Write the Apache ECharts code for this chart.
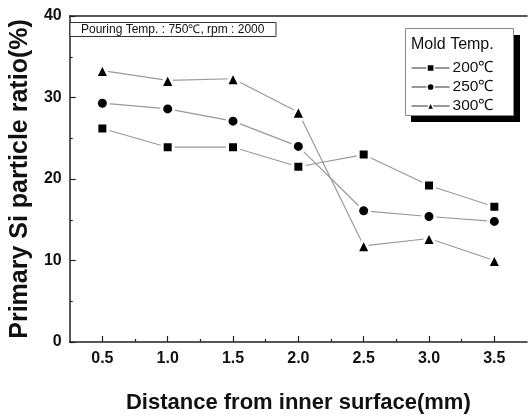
<!DOCTYPE html>
<html>
<head>
<meta charset="utf-8">
<script src="https://cdn.jsdelivr.net/npm/echarts@6.0.0/dist/echarts.min.js"></script>
<style>
  html, body { margin: 0; padding: 0; background: #fff; }
  #main { width: 528px; height: 419px; }
</style>
</head>
<body>
<div id="main"></div>
<script>
// distance from inner surface (mm)
const distances = [0.5, 1.0, 1.5, 2.0, 2.5, 3.0, 3.5]
const xTicks = [0.5, 1.0, 1.5, 2.0, 2.5, 3.0, 3.5]
const xMinorTicks = [0.75, 1.25, 1.75, 2.25, 2.75, 3.25]
// primary Si particle ratio (%) per mold temperature
const mold200 = [26.2, 23.9, 23.9, 21.5, 23.0, 19.2, 16.6]
const mold250 = [29.3, 28.6, 27.1, 24.0, 16.1, 15.4, 14.8]
const mold300 = [33.3, 32.1, 32.3, 28.2, 11.8, 12.7, 10.0]
const seriesNames = ['200\u2103', '250\u2103', '300\u2103']

const FONT = "'Liberation Sans', Arial, sans-serif"
const AXIS = '#222'

const chart = echarts.init(document.getElementById('main'))

const pairs = (vals) => distances.map((d, i) => [d, vals[i]])

const mkSeries = (name, vals, symbol, size) => ({
  name: name,
  type: 'line',
  data: pairs(vals),
  symbol: symbol,
  symbolSize: size,
  lineStyle: { color: '#999', width: 1.2 },
  itemStyle: { color: '#000', borderColor: '#fff', borderWidth: 3 },
  emphasis: { disabled: true },
  z: 3
})

const option = {
  animation: false,
  backgroundColor: '#fff',
  grid: { left: 69, right: 1, top: 16, bottom: 63 },
  xAxis: [
    {
      type: 'value', min: 0.25, max: 3.75, position: 'bottom',
      name: 'Distance from inner surface(mm)', nameLocation: 'middle', nameGap: 50,
      nameTextStyle: { fontFamily: FONT, fontWeight: 'bold', fontSize: 22, color: '#111' },
      axisLine: { lineStyle: { color: AXIS, width: 1.5 } },
      axisTick: { inside: true, length: 6, lineStyle: { color: AXIS, width: 1.2 }, customValues: xTicks },
      axisLabel: { customValues: xTicks, margin: 9, fontFamily: FONT, fontWeight: 'bold', fontSize: 16, color: '#111',
        formatter: v => v.toFixed(1) },
      splitLine: { show: false }
    },
    {
      type: 'value', min: 0.25, max: 3.75, position: 'bottom',
      axisLine: { show: false },
      axisTick: { inside: true, length: 3, lineStyle: { color: AXIS, width: 1.2 }, customValues: xMinorTicks },
      axisLabel: { show: false },
      splitLine: { show: false }
    },
    {
      type: 'value', min: 0.25, max: 3.75, position: 'top',
      axisLine: { lineStyle: { color: AXIS, width: 1.5 } },
      axisTick: { show: false }, axisLabel: { show: false }, splitLine: { show: false }
    }
  ],
  yAxis: {
    type: 'value', min: 0, max: 40, interval: 10,
    name: 'Primary Si particle ratio(%)', nameLocation: 'middle', nameGap: 35,
    nameTextStyle: { fontFamily: FONT, fontWeight: 'bold', fontSize: 25, color: '#111' },
    axisLine: { show: true, lineStyle: { color: AXIS, width: 1.5 } },
    axisTick: { inside: true, length: 6, lineStyle: { color: AXIS, width: 1.2 } },
    minorTick: { show: true, splitNumber: 2, length: 3, lineStyle: { color: AXIS, width: 1.2 } },
    axisLabel: { margin: 8, fontFamily: FONT, fontWeight: 'bold', fontSize: 16, color: '#111' },
    splitLine: { show: false }
  },
  legend: {
    orient: 'vertical', left: 406, top: 55, z: 10,
    data: seriesNames,
    itemWidth: 38, itemHeight: 9, itemGap: 3,
    lineStyle: { color: '#333', width: 1.2 },
    itemStyle: { borderWidth: 1.5 },
    textStyle: { fontFamily: FONT, fontSize: 15.5, color: '#111', padding: [0, 0, 0, -2] },
    selectedMode: false
  },
  graphic: [
    {
      type: 'rect', z: 5, shape: { x: 70, y: 22.5, width: 206, height: 14 },
      style: { fill: '#fff', stroke: '#333', lineWidth: 1 }
    },
    {
      type: 'text', z: 6, x: 81, y: 30,
      style: { text: 'Pouring Temp. : 750\u2103, rpm : 2000', font: '12px ' + FONT, fill: '#111', verticalAlign: 'middle' }
    },
    {
      type: 'rect', z: 4, shape: { x: 411, y: 35, width: 109, height: 87 },
      style: { fill: '#000' }
    },
    {
      type: 'rect', z: 5, shape: { x: 405.5, y: 28.5, width: 108, height: 87 },
      style: { fill: '#fff', stroke: '#888', lineWidth: 1 }
    },
    {
      type: 'text', z: 6, x: 411, y: 45,
      style: { text: 'Mold Temp.', font: '16px ' + FONT, fill: '#111', verticalAlign: 'middle' }
    }
  ],
  series: [
    mkSeries(seriesNames[0], mold200, 'rect', 11),
    mkSeries(seriesNames[1], mold250, 'circle', 12),
    mkSeries(seriesNames[2], mold300, 'triangle', 14)
  ]
}

chart.setOption(option)
</script>
</body>
</html>
